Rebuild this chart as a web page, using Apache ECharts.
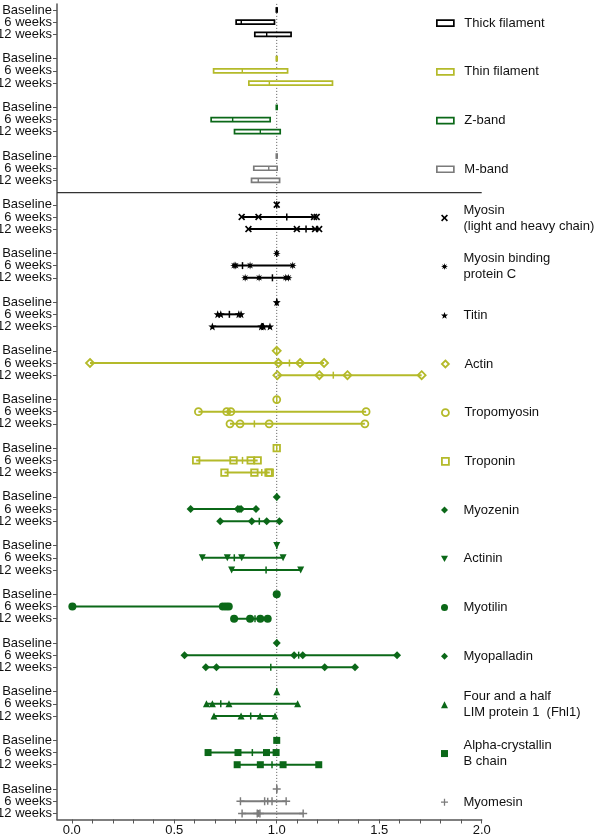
<!DOCTYPE html>
<html><head><meta charset="utf-8">
<script src="https://cdn.jsdelivr.net/npm/echarts@6/dist/echarts.min.js"></script>
<style>html,body{margin:0;padding:0;background:#fff}#c{width:601px;height:835px}</style>
</head><body><div id="c"></div>
<script>
// ---------- data ----------
const timeLabels = ['Baseline', '6 weeks', '12 weeks'];
const xTickValues = [0, 0.5, 1, 1.5, 2];
const xTickLabels = ['0.0', '0.5', '1.0', '1.5', '2.0'];
const referenceValue = 1.0;

// structural groups: [min, median, max] for Baseline, 6 weeks, 12 weeks
const bandNames = ['Thick filament', 'Thin filament', 'Z-band', 'M-band'];
const thickBox = [[0.998, 1.0, 1.002], [0.802, 0.827, 0.989], [0.893, 0.951, 1.070]];
const thinBox  = [[0.998, 1.0, 1.002], [0.692, 0.832, 1.053], [0.864, 0.964, 1.272]];
const zBandBox = [[0.998, 1.0, 1.002], [0.680, 0.785, 0.968], [0.794, 0.920, 1.017]];
const mBandBox = [[0.998, 1.0, 1.002], [0.888, 0.961, 1.002], [0.877, 0.910, 1.014]];

// proteins: individual values and median for Baseline, 6 weeks, 12 weeks
const proteinNames = ['Myosin\n(light and heavy chain)', 'Myosin binding\nprotein C', 'Titin', 'Actin',
  'Tropomyosin', 'Troponin', 'Myozenin', 'Actinin', 'Myotilin', 'Myopalladin',
  'Four and a half\nLIM protein 1  (Fhl1)', 'Alpha-crystallin\nB chain', 'Myomesin'];
const myosinPts = [[1.0], [0.829, 0.911, 1.182, 1.195], [0.862, 1.098, 1.187, 1.207]];
const myosinMed = [1.0, 1.049, 1.143];
const mybpcPts = [[1.0], [0.792, 0.800, 0.870, 1.078], [0.846, 0.914, 1.044, 1.057]];
const mybpcMed = [1.0, 0.833, 0.979];
const titinPts = [[1.0], [0.712, 0.727, 0.815, 0.826], [0.686, 0.925, 0.935, 0.967]];
const titinMed = [1.0, 0.769, 0.930];
const actinPts = [[1.0], [0.089, 1.008, 1.114, 1.231], [1.003, 1.208, 1.345, 1.707]];
const actinMed = [1.0, 1.062, 1.276];
const tropomyosinPts = [[1.0], [0.618, 0.756, 0.776, 1.436], [0.772, 0.821, 0.963, 1.430]];
const tropomyosinMed = [1.0, 0.766, 0.891];
const troponinPts = [[1.0], [0.607, 0.789, 0.873, 0.907], [0.745, 0.891, 0.960, 0.966]];
const troponinMed = [1.0, 0.833, 0.927];
const myozeninPts = [[1.0], [0.580, 0.810, 0.826, 0.899], [0.724, 0.878, 0.951, 1.013]];
const myozeninMed = [1.0, 0.818, 0.915];
const actininPts = [[1.0], [0.637, 0.759, 0.829, 1.031], [0.780, 1.117]];
const actininMed = [1.0, 0.793, 0.948];
const myotilinPts = [[1.0], [0.003, 0.737, 0.752, 0.766], [0.792, 0.870, 0.920, 0.956]];
const myotilinMed = [1.0, 0.745, 0.894];
const myopalladinPts = [[1.0], [0.550, 1.085, 1.127, 1.587], [0.654, 0.706, 1.234, 1.382]];
const myopalladinMed = [1.0, 1.107, 0.971];
const fhl1Pts = [[1.0], [0.657, 0.686, 0.767, 1.102], [0.694, 0.826, 0.919, 0.992]];
const fhl1Med = [1.0, 0.727, 0.873];
const cryabPts = [[1.0], [0.665, 0.811, 0.950, 0.997], [0.807, 0.920, 1.031, 1.205]];
const cryabMed = [1.0, 0.881, 0.977];
const myomesinPts = [[1.0], [0.823, 0.941, 0.977, 1.046], [0.831, 0.905, 0.918, 1.129]];
const myomesinMed = [1.0, 0.956, 0.912];

// ---------- styles ----------
const C_BLACK = '#000000', C_YEL = '#b4ba2a', C_GRN = '#0b6818', C_GRY = '#7b7b7b';
const FONT = 'Liberation Sans, Arial, sans-serif';
const GRID_LEFT = 57, GRID_RIGHT = 119.3, GRID_TOP = 3.9, GRID_BOTTOM = 15.5;
const X_MIN = -0.072, X_MAX = 2.0;

function starPath(n, rOut, rIn) {
  let d = '';
  for (let k = 0; k < 2 * n; k++) {
    const r = k % 2 === 0 ? rOut : rIn;
    const a = -Math.PI / 2 + k * Math.PI / n;
    d += (k === 0 ? 'M' : 'L') + (10 + r * Math.cos(a)).toFixed(3) + ',' + (10 + r * Math.sin(a)).toFixed(3);
  }
  return 'path://' + d + 'Z';
}
const SYM_X = 'path://M0,1.7L1.7,0L5,3.3L8.3,0L10,1.7L6.7,5L10,8.3L8.3,10L5,6.7L1.7,10L0,8.3L3.3,5Z';
const SYM_AST = starPath(8, 10, 4.4);
const SYM_STAR = starPath(5, 10, 4.2);
const SYM_DOWN = 'path://M0,0L10,0L5,9Z';
const SYM_PLUS = 'path://M4.1,0H5.9V4.1H10V5.9H5.9V10H4.1V5.9H0V4.1H4.1Z';

const proteinStyle = [
  {pts: myosinPts, med: myosinMed, color: C_BLACK, symbol: SYM_X, size: 7, hollow: false},
  {pts: mybpcPts, med: mybpcMed, color: C_BLACK, symbol: SYM_AST, size: 8, hollow: false},
  {pts: titinPts, med: titinMed, color: C_BLACK, symbol: SYM_STAR, size: 8, hollow: false},
  {pts: actinPts, med: actinMed, color: C_YEL, symbol: 'diamond', size: 8, hollow: true},
  {pts: tropomyosinPts, med: tropomyosinMed, color: C_YEL, symbol: 'circle', size: 7, hollow: true},
  {pts: troponinPts, med: troponinMed, color: C_YEL, symbol: 'rect', size: 6.5, hollow: true},
  {pts: myozeninPts, med: myozeninMed, color: C_GRN, symbol: 'diamond', size: 8, hollow: false},
  {pts: actininPts, med: actininMed, color: C_GRN, symbol: SYM_DOWN, size: 7, hollow: false},
  {pts: myotilinPts, med: myotilinMed, color: C_GRN, symbol: 'circle', size: 8, hollow: false},
  {pts: myopalladinPts, med: myopalladinMed, color: C_GRN, symbol: 'diamond', size: 8, hollow: false},
  {pts: fhl1Pts, med: fhl1Med, color: C_GRN, symbol: 'triangle', size: 7, hollow: false},
  {pts: cryabPts, med: cryabMed, color: C_GRN, symbol: 'rect', size: 7, hollow: false},
  {pts: myomesinPts, med: myomesinMed, color: C_GRY, symbol: SYM_PLUS, size: 8, hollow: false}
];
const bandData = [thickBox, thinBox, zBandBox, mBandBox];
const bandColors = [C_BLACK, C_YEL, C_GRN, C_GRY];

// ---------- axis rows ----------
const nGroups = bandNames.length + proteinNames.length;
const rowLabels = [];
for (let g = 0; g < nGroups; g++) {
  timeLabels.forEach(t => rowLabels.push(t));
  if (g < nGroups - 1) rowLabels.push('');
}
const rowCats = rowLabels.map((_, i) => String(i));
const BAND = (835 - GRID_TOP - GRID_BOTTOM) / rowLabels.length;

const xTicks = [];
for (let i = 0; i <= 20; i++) xTicks.push(i / 10);

// ---------- series ----------
const series = [];

function renderBox(params, api) {
  const row = api.value(3);
  const a = api.coord([api.value(0), row]);
  const m = api.coord([api.value(1), row]);
  const b = api.coord([api.value(2), row]);
  const color = api.visual('color');
  const h = 4;
  return {type: 'group', children: [
    {type: 'rect', shape: {x: a[0], y: a[1] - h / 2, width: b[0] - a[0], height: h},
      style: {fill: '#fff', stroke: color, lineWidth: 1.7}},
    {type: 'line', shape: {x1: m[0], y1: m[1] - h / 2, x2: m[0], y2: m[1] + h / 2},
      style: {stroke: color, lineWidth: 1.4}}
  ]};
}
bandNames.forEach((name, g) => {
  series.push({
    type: 'custom', name: name, renderItem: renderBox, z: 3,
    itemStyle: {color: bandColors[g], opacity: 1},
    dimensions: ['lo', 'mid', 'hi', 'row'],
    encode: {x: 0, y: 3},
    data: bandData[g].map((v, t) => [v[0], v[1], v[2], 4 * g + t])
  });
});

function renderRange(params, api) {
  const row = api.value(3);
  const p1 = api.coord([api.value(0), row]);
  const p2 = api.coord([api.value(1), row]);
  const pm = api.coord([api.value(2), row]);
  const color = api.visual('color');
  return {type: 'group', children: [
    {type: 'line', shape: {x1: p1[0], y1: p1[1], x2: p2[0], y2: p2[1]}, style: {stroke: color, lineWidth: 2}},
    {type: 'line', shape: {x1: pm[0], y1: pm[1] - 3.5, x2: pm[0], y2: pm[1] + 3.5}, style: {stroke: color, lineWidth: 1.5}}
  ]};
}
const rangeData = [];
proteinStyle.forEach((p, i) => {
  const G = bandNames.length + i;
  p.pts.forEach((vals, t) => {
    rangeData.push({value: [Math.min(...vals), Math.max(...vals), p.med[t], 4 * G + t], itemStyle: {color: p.color}});
  });
});
series.push({
  type: 'custom', name: '_ranges', renderItem: renderRange, z: 2,
  dimensions: ['lo', 'hi', 'mid', 'row'],
  encode: {x: 0, y: 3}, data: rangeData
});

// reference line at 1.0 and separator between the panels (blank row 15)
series.push({
  type: 'custom', name: '_ref', z: 1, encode: {x: 0, y: 1},
  data: [[referenceValue, 15]],
  renderItem: function (params, api) {
    const p = api.coord([api.value(0), api.value(1)]);
    const cs = params.coordSys;
    return {type: 'group', children: [
      {type: 'line', shape: {x1: p[0], y1: cs.y, x2: p[0], y2: cs.y + cs.height},
        style: {stroke: '#555', lineWidth: 1, lineDash: [1, 2]}},
      {type: 'line', shape: {x1: cs.x, y1: p[1], x2: cs.x + cs.width, y2: p[1]},
        style: {stroke: '#333', lineWidth: 1.3}}
    ]};
  }
});

proteinStyle.forEach((p, i) => {
  const G = bandNames.length + i;
  const data = [];
  p.pts.forEach((vals, t) => vals.forEach(v => data.push([v, 4 * G + t])));
  series.push({
    type: 'scatter', name: proteinNames[i], z: 5,
    symbol: p.symbol, symbolSize: p.size,
    itemStyle: p.hollow ? {color: 'rgba(0,0,0,0)', borderColor: p.color, borderWidth: 1.8, opacity: 1}
                        : {color: p.color, borderWidth: 0, opacity: 1},
    data: data
  });
});

// ---------- legends ----------
const legends = [];
const allNames = bandNames.concat(proteinNames);
allNames.forEach((name, G) => {
  const isBox = G < bandNames.length;
  const row = 4 * G + 1;
  const cy = GRID_TOP + (row + 0.5) * BAND + 1;
  const lines = name.split('\n').length;
  const iw = isBox ? 17 : 7, ih = isBox ? 6 : 7;
  const H = Math.max(ih, lines * 16);
  const left = isBox ? 436 : 444.5 - iw / 2;
  let icon, istyle;
  if (isBox) {
    icon = 'rect';
    istyle = {color: '#fff', borderColor: bandColors[G], borderWidth: 1.7, opacity: 1};
  } else {
    const p = proteinStyle[G - bandNames.length];
    icon = p.symbol;
    istyle = p.hollow ? {color: 'rgba(0,0,0,0)', borderColor: p.color, borderWidth: 1.8, opacity: 1}
                      : {color: p.color, borderWidth: 0, opacity: 1};
  }
  legends.push({
    show: true, left: left, top: cy - H / 2, padding: 0, orient: 'vertical',
    itemWidth: iw, itemHeight: ih, selectedMode: false,
    itemStyle: istyle,
    textStyle: {fontSize: 13, lineHeight: 16, color: '#111', fontFamily: FONT,
      padding: [0, 0, 0, 463.5 - (left + iw + 5)]},
    data: [{name: name, icon: icon}]
  });
});

const baseOption = {
  animation: false,
  backgroundColor: '#fff',
  textStyle: {fontFamily: FONT},
  grid: {left: GRID_LEFT, right: GRID_RIGHT, top: GRID_TOP, bottom: GRID_BOTTOM, containLabel: false, outerBoundsMode: 'none'},
  xAxis: {
    type: 'value', min: X_MIN, max: X_MAX,
    axisLine: {show: true, onZero: false, lineStyle: {color: '#555', width: 1.5}},
    axisTick: {show: true, customValues: xTicks, length: 4, lineStyle: {color: '#555', width: 1}},
    axisLabel: {show: true, customValues: xTickValues, margin: 4, fontSize: 13, color: '#111',
      formatter: v => xTickLabels[xTickValues.indexOf(v)]},
    splitLine: {show: false}
  },
  yAxis: {
    type: 'category', inverse: true, data: rowCats,
    axisLine: {show: true, onZero: false, lineStyle: {color: '#555', width: 1.5}},
    axisTick: {show: true, length: 4, alignWithLabel: true, interval: (i) => rowLabels[i] !== '',
      lineStyle: {color: '#555', width: 1}},
    axisLabel: {show: true, interval: 0, margin: 5, fontSize: 13, color: '#111',
      formatter: (v, i) => rowLabels[i]},
    splitLine: {show: false}
  },
  legend: legends
};

const el = document.getElementById('c');
let chart = echarts.init(el, null, {renderer: 'canvas'});
try {
  chart.setOption(Object.assign({}, baseOption, {series: series}));
} catch (e) {
  console.error('FULL FAIL: ' + e.message);
  const ok = [];
  series.forEach(s => {
    try {
      chart.dispose();
      chart = echarts.init(el, null, {renderer: 'canvas'});
      chart.setOption(Object.assign({}, baseOption, {series: ok.concat([s])}));
      ok.push(s);
    } catch (err) {
      console.error('SERIES FAIL ' + s.type + ' ' + s.name + ': ' + err.message);
    }
  });
  chart.dispose();
  chart = echarts.init(el, null, {renderer: 'canvas'});
  chart.setOption(Object.assign({}, baseOption, {series: ok}));
}
</script>
</body></html>
